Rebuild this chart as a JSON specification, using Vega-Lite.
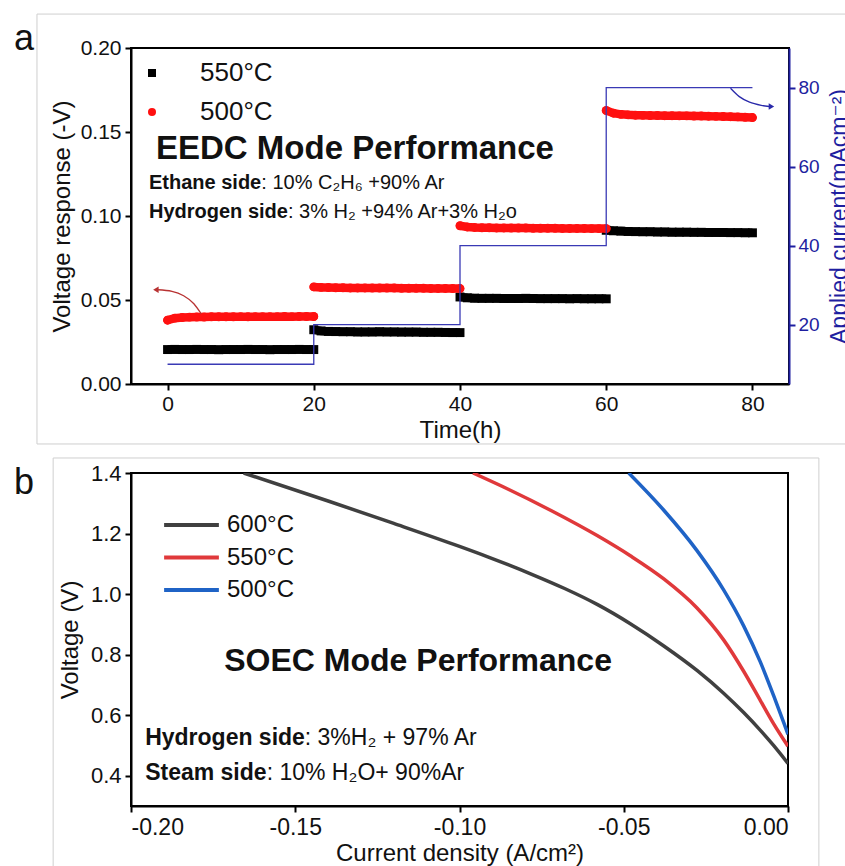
{
  "$schema": "https://vega.github.io/schema/vega-lite/v6.json",
  "padding": {"left": 13, "top": 12, "right": 0, "bottom": 0},
  "config": {
    "font": "Liberation Sans, Arial, DejaVu Sans, sans-serif",
    "view": {"stroke": "#000000", "strokeWidth": 2},
    "axis": {"grid": false, "domainColor": "#000000", "domainWidth": 2, "tickColor": "#000000", "tickWidth": 2, "tickSize": 6, "labelColor": "#111111", "labelFontSize": 21, "titleFontSize": 24, "titleFontWeight": "normal", "titleColor": "#111111"},
    "legend": {"labelColor": "#111111"}
  },
  "datasets": {
    "eedc": [
      {"t":0,"v":0.0205,"s":"550°C","g":1},{"t":1,"v":0.0206,"s":"550°C","g":1},{"t":2,"v":0.0205,"s":"550°C","g":1},{"t":3,"v":0.0205,"s":"550°C","g":1},{"t":4,"v":0.0206,"s":"550°C","g":1},{"t":5,"v":0.0205,"s":"550°C","g":1},{"t":6,"v":0.0205,"s":"550°C","g":1},{"t":7,"v":0.0204,"s":"550°C","g":1},{"t":8,"v":0.0205,"s":"550°C","g":1},{"t":9,"v":0.0205,"s":"550°C","g":1},{"t":10,"v":0.0205,"s":"550°C","g":1},{"t":11,"v":0.0206,"s":"550°C","g":1},{"t":12,"v":0.0205,"s":"550°C","g":1},{"t":13,"v":0.0205,"s":"550°C","g":1},{"t":14,"v":0.0204,"s":"550°C","g":1},{"t":15,"v":0.0205,"s":"550°C","g":1},{"t":16,"v":0.0205,"s":"550°C","g":1},{"t":17,"v":0.0205,"s":"550°C","g":1},{"t":18,"v":0.0206,"s":"550°C","g":1},{"t":19,"v":0.0205,"s":"550°C","g":1},{"t":20,"v":0.0205,"s":"550°C","g":1},
      {"t":20,"v":0.0323,"s":"550°C","g":2},{"t":21,"v":0.0316,"s":"550°C","g":2},{"t":22,"v":0.0313,"s":"550°C","g":2},{"t":23,"v":0.0312,"s":"550°C","g":2},{"t":24,"v":0.0311,"s":"550°C","g":2},{"t":25,"v":0.0311,"s":"550°C","g":2},{"t":26,"v":0.031,"s":"550°C","g":2},{"t":27,"v":0.031,"s":"550°C","g":2},{"t":28,"v":0.031,"s":"550°C","g":2},{"t":29,"v":0.0311,"s":"550°C","g":2},{"t":30,"v":0.031,"s":"550°C","g":2},{"t":31,"v":0.031,"s":"550°C","g":2},{"t":32,"v":0.0309,"s":"550°C","g":2},{"t":33,"v":0.0309,"s":"550°C","g":2},{"t":34,"v":0.0309,"s":"550°C","g":2},{"t":35,"v":0.0308,"s":"550°C","g":2},{"t":36,"v":0.0308,"s":"550°C","g":2},{"t":37,"v":0.0308,"s":"550°C","g":2},{"t":38,"v":0.0307,"s":"550°C","g":2},{"t":39,"v":0.0306,"s":"550°C","g":2},{"t":40,"v":0.0306,"s":"550°C","g":2},
      {"t":40,"v":0.0518,"s":"550°C","g":3},{"t":41,"v":0.0513,"s":"550°C","g":3},{"t":42,"v":0.0511,"s":"550°C","g":3},{"t":43,"v":0.051,"s":"550°C","g":3},{"t":44,"v":0.051,"s":"550°C","g":3},{"t":45,"v":0.051,"s":"550°C","g":3},{"t":46,"v":0.0509,"s":"550°C","g":3},{"t":47,"v":0.0509,"s":"550°C","g":3},{"t":48,"v":0.0509,"s":"550°C","g":3},{"t":49,"v":0.051,"s":"550°C","g":3},{"t":50,"v":0.0509,"s":"550°C","g":3},{"t":51,"v":0.0508,"s":"550°C","g":3},{"t":52,"v":0.0508,"s":"550°C","g":3},{"t":53,"v":0.0508,"s":"550°C","g":3},{"t":54,"v":0.0508,"s":"550°C","g":3},{"t":55,"v":0.0507,"s":"550°C","g":3},{"t":56,"v":0.0508,"s":"550°C","g":3},{"t":57,"v":0.0507,"s":"550°C","g":3},{"t":58,"v":0.0507,"s":"550°C","g":3},{"t":59,"v":0.0507,"s":"550°C","g":3},{"t":60,"v":0.0507,"s":"550°C","g":3},
      {"t":60,"v":0.0915,"s":"550°C","g":4},{"t":61,"v":0.0912,"s":"550°C","g":4},{"t":62,"v":0.091,"s":"550°C","g":4},{"t":63,"v":0.0908,"s":"550°C","g":4},{"t":64,"v":0.0907,"s":"550°C","g":4},{"t":65,"v":0.0906,"s":"550°C","g":4},{"t":66,"v":0.0906,"s":"550°C","g":4},{"t":67,"v":0.0905,"s":"550°C","g":4},{"t":68,"v":0.0905,"s":"550°C","g":4},{"t":69,"v":0.0904,"s":"550°C","g":4},{"t":70,"v":0.0904,"s":"550°C","g":4},{"t":71,"v":0.0904,"s":"550°C","g":4},{"t":72,"v":0.0903,"s":"550°C","g":4},{"t":73,"v":0.0903,"s":"550°C","g":4},{"t":74,"v":0.0902,"s":"550°C","g":4},{"t":75,"v":0.0902,"s":"550°C","g":4},{"t":76,"v":0.0902,"s":"550°C","g":4},{"t":77,"v":0.0901,"s":"550°C","g":4},{"t":78,"v":0.0901,"s":"550°C","g":4},{"t":79,"v":0.09,"s":"550°C","g":4},{"t":80,"v":0.09,"s":"550°C","g":4},
      {"t":0,"v":0.038,"s":"500°C","g":1},{"t":1,"v":0.0392,"s":"500°C","g":1},{"t":2,"v":0.0396,"s":"500°C","g":1},{"t":3,"v":0.0398,"s":"500°C","g":1},{"t":4,"v":0.0399,"s":"500°C","g":1},{"t":5,"v":0.0399,"s":"500°C","g":1},{"t":6,"v":0.04,"s":"500°C","g":1},{"t":7,"v":0.04,"s":"500°C","g":1},{"t":8,"v":0.04,"s":"500°C","g":1},{"t":9,"v":0.04,"s":"500°C","g":1},{"t":10,"v":0.0401,"s":"500°C","g":1},{"t":11,"v":0.04,"s":"500°C","g":1},{"t":12,"v":0.0401,"s":"500°C","g":1},{"t":13,"v":0.0401,"s":"500°C","g":1},{"t":14,"v":0.0401,"s":"500°C","g":1},{"t":15,"v":0.0401,"s":"500°C","g":1},{"t":16,"v":0.0402,"s":"500°C","g":1},{"t":17,"v":0.0401,"s":"500°C","g":1},{"t":18,"v":0.0402,"s":"500°C","g":1},{"t":19,"v":0.0402,"s":"500°C","g":1},{"t":20,"v":0.0402,"s":"500°C","g":1},
      {"t":20,"v":0.0578,"s":"500°C","g":2},{"t":21,"v":0.0575,"s":"500°C","g":2},{"t":22,"v":0.0574,"s":"500°C","g":2},{"t":23,"v":0.0573,"s":"500°C","g":2},{"t":24,"v":0.0573,"s":"500°C","g":2},{"t":25,"v":0.0572,"s":"500°C","g":2},{"t":26,"v":0.0572,"s":"500°C","g":2},{"t":27,"v":0.0572,"s":"500°C","g":2},{"t":28,"v":0.0571,"s":"500°C","g":2},{"t":29,"v":0.0571,"s":"500°C","g":2},{"t":30,"v":0.0571,"s":"500°C","g":2},{"t":31,"v":0.0571,"s":"500°C","g":2},{"t":32,"v":0.057,"s":"500°C","g":2},{"t":33,"v":0.057,"s":"500°C","g":2},{"t":34,"v":0.057,"s":"500°C","g":2},{"t":35,"v":0.057,"s":"500°C","g":2},{"t":36,"v":0.0569,"s":"500°C","g":2},{"t":37,"v":0.0569,"s":"500°C","g":2},{"t":38,"v":0.0569,"s":"500°C","g":2},{"t":39,"v":0.0568,"s":"500°C","g":2},{"t":40,"v":0.0568,"s":"500°C","g":2},
      {"t":40,"v":0.0942,"s":"500°C","g":3},{"t":41,"v":0.0935,"s":"500°C","g":3},{"t":42,"v":0.0932,"s":"500°C","g":3},{"t":43,"v":0.093,"s":"500°C","g":3},{"t":44,"v":0.093,"s":"500°C","g":3},{"t":45,"v":0.0929,"s":"500°C","g":3},{"t":46,"v":0.0929,"s":"500°C","g":3},{"t":47,"v":0.0928,"s":"500°C","g":3},{"t":48,"v":0.0928,"s":"500°C","g":3},{"t":49,"v":0.0928,"s":"500°C","g":3},{"t":50,"v":0.0927,"s":"500°C","g":3},{"t":51,"v":0.0927,"s":"500°C","g":3},{"t":52,"v":0.0927,"s":"500°C","g":3},{"t":53,"v":0.0927,"s":"500°C","g":3},{"t":54,"v":0.0926,"s":"500°C","g":3},{"t":55,"v":0.0926,"s":"500°C","g":3},{"t":56,"v":0.0926,"s":"500°C","g":3},{"t":57,"v":0.0926,"s":"500°C","g":3},{"t":58,"v":0.0925,"s":"500°C","g":3},{"t":59,"v":0.0925,"s":"500°C","g":3},{"t":60,"v":0.0925,"s":"500°C","g":3},
      {"t":60,"v":0.1628,"s":"500°C","g":4},{"t":61,"v":0.1612,"s":"500°C","g":4},{"t":62,"v":0.1605,"s":"500°C","g":4},{"t":63,"v":0.1602,"s":"500°C","g":4},{"t":64,"v":0.16,"s":"500°C","g":4},{"t":65,"v":0.1599,"s":"500°C","g":4},{"t":66,"v":0.1598,"s":"500°C","g":4},{"t":67,"v":0.1598,"s":"500°C","g":4},{"t":68,"v":0.1597,"s":"500°C","g":4},{"t":69,"v":0.1597,"s":"500°C","g":4},{"t":70,"v":0.1596,"s":"500°C","g":4},{"t":71,"v":0.1596,"s":"500°C","g":4},{"t":72,"v":0.1595,"s":"500°C","g":4},{"t":73,"v":0.1595,"s":"500°C","g":4},{"t":74,"v":0.1594,"s":"500°C","g":4},{"t":75,"v":0.1593,"s":"500°C","g":4},{"t":76,"v":0.1592,"s":"500°C","g":4},{"t":77,"v":0.1591,"s":"500°C","g":4},{"t":78,"v":0.159,"s":"500°C","g":4},{"t":79,"v":0.1588,"s":"500°C","g":4},{"t":80,"v":0.1586,"s":"500°C","g":4}
    ],
    "curr": [
      {"t":0,"i":10},{"t":20,"i":20},{"t":40,"i":40},{"t":60,"i":80},{"t":80,"i":80}
    ],
    "arrowA": [
      {"t":4.6,"v":0.0418},{"t":3.6,"v":0.0478},{"t":2.2,"v":0.0525},{"t":0.6,"v":0.0552},{"t":-1.3,"v":0.0561}
    ],
    "arrowB": [
      {"t":77.0,"i":79.8},{"t":78.2,"i":77.7},{"t":79.6,"i":76.3},{"t":81.2,"i":75.5},{"t":82.3,"i":75.2}
    ],
    "soec": [
      {"j":-0.1657,"u":1.4,"s":"600°C"},{"j":-0.14,"u":1.3075,"s":"600°C"},{"j":-0.12,"u":1.2335,"s":"600°C"},{"j":-0.1,"u":1.1575,"s":"600°C"},{"j":-0.0916,"u":1.1239,"s":"600°C"},{"j":-0.078,"u":1.0654,"s":"600°C"},{"j":-0.068,"u":1.0184,"s":"600°C"},{"j":-0.0581,"u":0.9659,"s":"600°C"},{"j":-0.048,"u":0.9021,"s":"600°C"},{"j":-0.0378,"u":0.8287,"s":"600°C"},{"j":-0.0277,"u":0.7479,"s":"600°C"},{"j":-0.0196,"u":0.6726,"s":"600°C"},{"j":-0.0135,"u":0.6086,"s":"600°C"},{"j":-0.0084,"u":0.5499,"s":"600°C"},{"j":-0.0044,"u":0.4999,"s":"600°C"},{"j":0,"u":0.4405,"s":"600°C"},
      {"j":-0.0959,"u":1.4,"s":"550°C"},{"j":-0.085,"u":1.3455,"s":"550°C"},{"j":-0.072,"u":1.2753,"s":"550°C"},{"j":-0.0581,"u":1.1933,"s":"550°C"},{"j":-0.048,"u":1.1266,"s":"550°C"},{"j":-0.0378,"u":1.0501,"s":"550°C"},{"j":-0.0277,"u":0.9541,"s":"550°C"},{"j":-0.0196,"u":0.8488,"s":"550°C"},{"j":-0.0135,"u":0.7451,"s":"550°C"},{"j":-0.0084,"u":0.6482,"s":"550°C"},{"j":-0.0044,"u":0.5722,"s":"550°C"},{"j":0,"u":0.4974,"s":"550°C"},
      {"j":-0.0485,"u":1.4,"s":"500°C"},{"j":-0.0378,"u":1.2769,"s":"500°C"},{"j":-0.0277,"u":1.1436,"s":"500°C"},{"j":-0.0196,"u":1.014,"s":"500°C"},{"j":-0.0135,"u":0.895,"s":"500°C"},{"j":-0.0084,"u":0.7751,"s":"500°C"},{"j":-0.0044,"u":0.6651,"s":"500°C"},{"j":-0.0013,"u":0.5752,"s":"500°C"},{"j":0,"u":0.5368,"s":"500°C"}
    ]
  },
  "bounds": "flush",
  "spacing": 89,
  "resolve": {"scale": {"color": "independent", "shape": "independent"}, "legend": {"color": "independent", "shape": "independent"}},
  "vconcat": [
    {
      "width": 658,
      "height": 336,
      "layer": [
        {
          "layer": [
            {
              "data": {"values": [{}]},
              "mark": {"type": "rect", "filled": false, "color": "#cfcfcf", "strokeWidth": 1},
              "encoding": {
                "x": {"datum": -17.86, "type": "quantitative", "scale": {"domain": [-5, 85], "nice": false, "zero": false}},
                "x2": {"datum": 93.5},
                "y": {"datum": 0.2202, "type": "quantitative", "scale": {"domain": [0, 0.2], "nice": false, "zero": false}},
                "y2": {"datum": -0.0357}
              }
            },
            {
              "data": {"values": [{}]},
              "mark": {"type": "text", "text": "a", "fontSize": 36, "align": "left", "baseline": "alphabetic", "color": "#111111"},
              "encoding": {"x": {"datum": -21.0, "type": "quantitative"}, "y": {"datum": 0.1988, "type": "quantitative"}}
            },
            {
              "data": {"name": "eedc"},
              "transform": [{"filter": "datum.s == '550°C'"}],
              "mark": {"type": "line", "color": "#000000", "strokeWidth": 8.5, "strokeCap": "butt"},
              "encoding": {
                "x": {"field": "t", "type": "quantitative", "scale": {"domain": [-5, 85], "nice": false, "zero": false}},
                "y": {"field": "v", "type": "quantitative", "scale": {"domain": [0, 0.2], "nice": false, "zero": false}},
                "detail": {"field": "g", "type": "nominal"}
              }
            },
            {
              "data": {"name": "eedc"},
              "mark": {"type": "point", "filled": true, "size": 80, "opacity": 1},
              "encoding": {
                "x": {"field": "t", "type": "quantitative", "scale": {"domain": [-5, 85], "nice": false, "zero": false},
                      "axis": {"title": "Time(h)", "values": [0, 20, 40, 60, 80], "format": "d", "labelPadding": 3, "titlePadding": 4}},
                "y": {"field": "v", "type": "quantitative", "scale": {"domain": [0, 0.2], "nice": false, "zero": false},
                      "axis": {"title": "Voltage response (-V)", "values": [0, 0.05, 0.1, 0.15, 0.2], "format": ".2f", "labelPadding": 4, "titlePadding": 6}},
                "color": {"field": "s", "type": "nominal", "scale": {"domain": ["550°C", "500°C"], "range": ["#000000", "#ff1010"]},
                          "legend": {"orient": "none", "legendX": 8, "legendY": 12, "title": null, "labelFontSize": 26, "symbolSize": 64, "labelOffset": 35, "rowPadding": 13, "symbolOpacity": 1}},
                "shape": {"field": "s", "type": "nominal", "scale": {"domain": ["550°C", "500°C"], "range": ["square", "circle"]}}
              }
            },
            {
              "data": {"name": "eedc"},
              "transform": [{"filter": "datum.s == '500°C'"}],
              "mark": {"type": "line", "color": "#ff1010", "strokeWidth": 8.5, "strokeCap": "round"},
              "encoding": {
                "x": {"field": "t", "type": "quantitative", "scale": {"domain": [-5, 85], "nice": false, "zero": false}},
                "y": {"field": "v", "type": "quantitative", "scale": {"domain": [0, 0.2], "nice": false, "zero": false}},
                "detail": {"field": "g", "type": "nominal"}
              }
            },
            {
              "data": {"name": "arrowA"},
              "mark": {"type": "line", "color": "#b83232", "strokeWidth": 1.3, "interpolate": "monotone"},
              "encoding": {
                "x": {"field": "t", "type": "quantitative", "scale": {"domain": [-5, 85], "nice": false, "zero": false}},
                "y": {"field": "v", "type": "quantitative", "scale": {"domain": [0, 0.2], "nice": false, "zero": false}}
              }
            },
            {
              "data": {"values": [{}]},
              "mark": {"type": "point", "shape": "triangle-left", "filled": true, "size": 40, "color": "#b83232", "opacity": 1},
              "encoding": {"x": {"datum": -1.6, "type": "quantitative"}, "y": {"datum": 0.0561, "type": "quantitative"}}
            },
            {
              "data": {"values": [{}]},
              "mark": {"type": "text", "text": "EEDC Mode Performance", "fontSize": 33, "fontWeight": "bold", "align": "left", "baseline": "alphabetic", "color": "#111111"},
              "encoding": {"x": {"datum": -1.58, "type": "quantitative"}, "y": {"datum": 0.1339, "type": "quantitative"}}
            },
            {
              "data": {"values": [{}]},
              "mark": {"type": "text", "text": "Ethane side", "fontSize": 20, "fontWeight": "bold", "align": "left", "baseline": "alphabetic", "color": "#111111"},
              "encoding": {"x": {"datum": -2.54, "type": "quantitative"}, "y": {"datum": 0.1161, "type": "quantitative"}}
            },
            {
              "data": {"values": [{}]},
              "mark": {"type": "text", "text": ": 10% C₂H₆ +90% Ar", "fontSize": 20, "align": "left", "baseline": "alphabetic", "color": "#111111"},
              "encoding": {"x": {"datum": 12.82, "type": "quantitative"}, "y": {"datum": 0.1161, "type": "quantitative"}}
            },
            {
              "data": {"values": [{}]},
              "mark": {"type": "text", "text": "Hydrogen side", "fontSize": 20, "fontWeight": "bold", "align": "left", "baseline": "alphabetic", "color": "#111111"},
              "encoding": {"x": {"datum": -2.54, "type": "quantitative"}, "y": {"datum": 0.0988, "type": "quantitative"}}
            },
            {
              "data": {"values": [{}]},
              "mark": {"type": "text", "text": ": 3% H₂ +94% Ar+3% H₂o", "fontSize": 20, "align": "left", "baseline": "alphabetic", "color": "#111111"},
              "encoding": {"x": {"datum": 16.46, "type": "quantitative"}, "y": {"datum": 0.0988, "type": "quantitative"}}
            }
          ]
        },
        {
          "layer": [
            {
              "data": {"name": "curr"},
              "mark": {"type": "line", "interpolate": "step-after", "color": "#3a3ab5", "strokeWidth": 1.3},
              "encoding": {
                "x": {"field": "t", "type": "quantitative", "scale": {"domain": [-5, 85], "nice": false, "zero": false}},
                "y": {"field": "i", "type": "quantitative", "scale": {"domain": [5, 90], "nice": false, "zero": false},
                      "axis": {"orient": "right", "title": "Applied current(mAcm⁻²)", "values": [20, 40, 60, 80], "format": "d", "labelFontSize": 19, "labelPadding": 3, "domainColor": "#1e1ea0", "tickColor": "#1e1ea0", "labelColor": "#1e1ea0", "titleColor": "#1e1ea0", "titleFontSize": 23, "titleAngle": 270, "titleBaseline": "top", "titlePadding": 9, "zindex": 1}}
              }
            },
            {
              "data": {"name": "arrowB"},
              "mark": {"type": "line", "color": "#2a2aaa", "strokeWidth": 1.3, "interpolate": "monotone"},
              "encoding": {
                "x": {"field": "t", "type": "quantitative", "scale": {"domain": [-5, 85], "nice": false, "zero": false}},
                "y": {"field": "i", "type": "quantitative", "scale": {"domain": [5, 90], "nice": false, "zero": false}}
              }
            },
            {
              "data": {"values": [{}]},
              "mark": {"type": "point", "shape": "triangle-right", "filled": true, "size": 40, "color": "#2a2aaa", "opacity": 1},
              "encoding": {"x": {"datum": 82.6, "type": "quantitative"}, "y": {"datum": 75.2, "type": "quantitative"}}
            }
          ]
        }
      ],
      "resolve": {"scale": {"y": "independent"}}
    },
    {
      "width": 657,
      "height": 333,
      "layer": [
        {
          "data": {"values": [{}]},
          "mark": {"type": "rect", "filled": false, "color": "#cfcfcf", "strokeWidth": 1},
          "encoding": {
            "x": {"datum": -0.2237, "type": "quantitative", "scale": {"domain": [-0.2, 0], "nice": false, "zero": false}},
            "x2": {"datum": 0.0094},
            "y": {"datum": 1.4496, "type": "quantitative", "scale": {"domain": [0.3, 1.4], "nice": false, "zero": false}},
            "y2": {"datum": 0.08}
          }
        },
        {
          "data": {"values": [{}]},
          "mark": {"type": "text", "text": "b", "fontSize": 36, "align": "left", "baseline": "alphabetic", "color": "#111111"},
          "encoding": {"x": {"datum": -0.2356, "type": "quantitative"}, "y": {"datum": 1.3306, "type": "quantitative"}}
        },
        {
          "data": {"name": "soec"},
          "mark": {"type": "line", "strokeWidth": 3.5, "interpolate": "monotone", "clip": true},
          "encoding": {
            "x": {"field": "j", "type": "quantitative", "scale": {"domain": [-0.2, 0], "nice": false, "zero": false},
                  "axis": {"title": "Current density (A/cm²)", "values": [-0.2, -0.15, -0.1, -0.05, 0], "labelExpr": "replace(format(datum.value, '.2f'), '−', '-')", "labelFontSize": 23, "labelPadding": 4, "titlePadding": 2}},
            "y": {"field": "u", "type": "quantitative", "scale": {"domain": [0.3, 1.4], "nice": false, "zero": false},
                  "axis": {"title": "Voltage (V)", "values": [0.4, 0.6, 0.8, 1.0, 1.2, 1.4], "format": ".1f", "labelFontSize": 22, "labelPadding": 4, "titlePadding": 8}},
            "color": {"field": "s", "type": "nominal", "scale": {"domain": ["600°C", "550°C", "500°C"], "range": ["#404040", "#e0393b", "#1f63c6"]},
                      "legend": {"orient": "none", "legendX": 31, "legendY": 40, "title": null, "labelFontSize": 24, "symbolType": "stroke", "symbolSize": 3000, "symbolStrokeWidth": 4, "labelOffset": 6, "clipHeight": 24, "rowPadding": 8.5}}
          }
        },
        {
          "data": {"values": [{}]},
          "mark": {"type": "text", "text": "SOEC Mode Performance", "fontSize": 32, "fontWeight": "bold", "align": "center", "baseline": "alphabetic", "color": "#111111"},
          "encoding": {"x": {"datum": -0.1126, "type": "quantitative"}, "y": {"datum": 0.746, "type": "quantitative"}}
        },
        {
          "data": {"values": [{}]},
          "mark": {"type": "text", "text": "Hydrogen side", "fontSize": 23, "fontWeight": "bold", "align": "left", "baseline": "alphabetic", "color": "#111111"},
          "encoding": {"x": {"datum": -0.1957, "type": "quantitative"}, "y": {"datum": 0.501, "type": "quantitative"}}
        },
        {
          "data": {"values": [{}]},
          "mark": {"type": "text", "text": ": 3%H₂ + 97% Ar", "fontSize": 23, "align": "left", "baseline": "alphabetic", "color": "#111111"},
          "encoding": {"x": {"datum": -0.1471, "type": "quantitative"}, "y": {"datum": 0.501, "type": "quantitative"}}
        },
        {
          "data": {"values": [{}]},
          "mark": {"type": "text", "text": "Steam side", "fontSize": 23, "fontWeight": "bold", "align": "left", "baseline": "alphabetic", "color": "#111111"},
          "encoding": {"x": {"datum": -0.1957, "type": "quantitative"}, "y": {"datum": 0.386, "type": "quantitative"}}
        },
        {
          "data": {"values": [{}]},
          "mark": {"type": "text", "text": ": 10% H₂O+ 90%Ar", "fontSize": 23, "align": "left", "baseline": "alphabetic", "color": "#111111"},
          "encoding": {"x": {"datum": -0.1587, "type": "quantitative"}, "y": {"datum": 0.386, "type": "quantitative"}}
        }
      ]
    }
  ]
}
